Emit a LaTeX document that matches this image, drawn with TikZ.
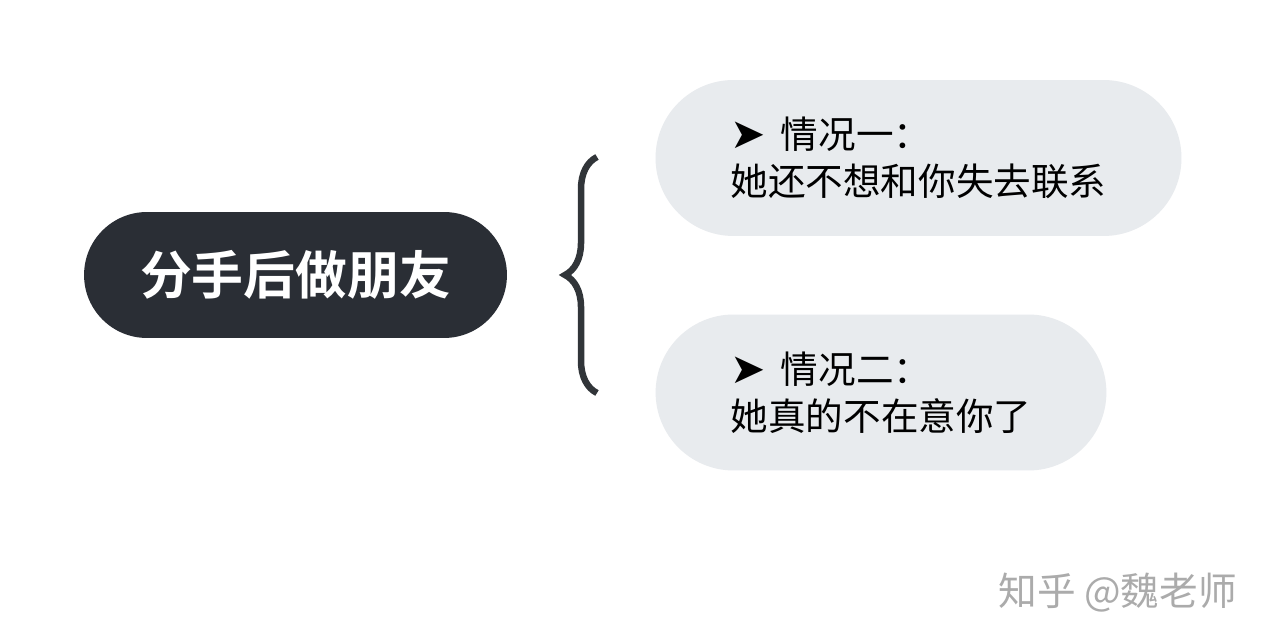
\documentclass[tikz,border=0pt]{standalone}
\usepackage{fontspec}
\usepackage{tikz}
\usepackage{xcolor}
\usetikzlibrary{calc,decorations.pathreplacing}
\newfontfamily\cjk{Noto Sans CJK SC}
\newfontfamily\cjkbf{Noto Sans CJK SC Bold}
\newfontfamily\symfont{DejaVu Sans}
\newcommand{\pointer}{{\symfont\fontsize{24}{26.7}\selectfont ➤}\hspace{0.4em}}
\definecolor{rootfill}{HTML}{2A2E35}
\definecolor{casefill}{HTML}{E8EBEE}
\definecolor{braceline}{HTML}{313539}
\definecolor{markgray}{HTML}{ABABAB}

\begin{document}
\begin{tikzpicture}[x=0.02cm,y=-0.02cm]
    % Styles for boxes and lines
    \tikzset{
      rootbox/.style={rectangle, rounded corners=1.26cm, fill=rootfill, text=white, align=center, minimum width=8.46cm, minimum height=2.52cm, font=\cjkbf\fontsize{29.5}{34}\selectfont},
      casebox/.style={rectangle, rounded corners=1.56cm, fill=casefill, text=black, align=left, inner xsep=1.5cm, minimum height=3.12cm, font=\cjk\fontsize{21.4}{26.7}\selectfont},
      bracket/.style={draw=braceline, line width=0.13cm, decorate, decoration={brace, amplitude=0.64cm}}
    }

    % Canvas
    \path[fill=white] (0,0) rectangle (1267,644);

    % Nodes with explicit coordinates
    \node[rootbox] (root) at (295.5,275) {分手后做朋友};
    \node[casebox] (caseA) at (918.5,158) {\pointer 情况一：\\她还不想和你失去联系};
    \node[casebox] (caseB) at (881,392.5) {\pointer 情况二：\\她真的不在意你了};

    % Brace
    \coordinate (braceTop) at (597,157);
    \coordinate (braceBot) at (597,393);
    \draw[bracket] (braceBot) -- (braceTop);

    % Watermark
    \node[anchor=west, text=markgray, inner sep=0pt, font=\cjk\fontsize{22}{26}\selectfont] (mark) at (998,593) {知乎 @魏老师};
\end{tikzpicture}
\end{document}
